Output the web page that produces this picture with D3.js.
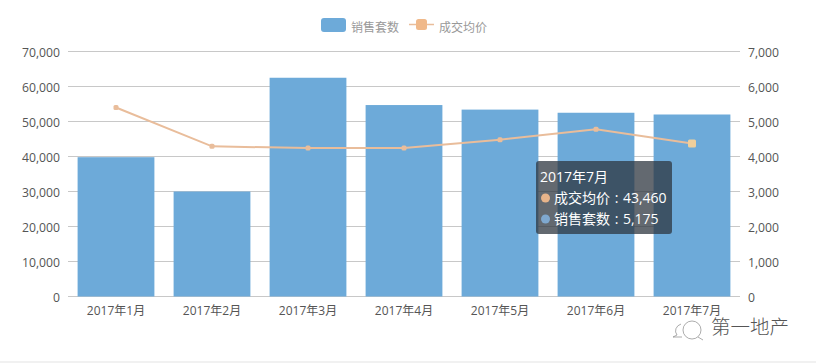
<!DOCTYPE html>
<html><head><meta charset="utf-8">
<script src="https://cdn.jsdelivr.net/npm/d3@7/dist/d3.min.js"></script>
<style>html,body{margin:0;padding:0;background:#fff}svg{display:block;font-family:"Open Sans","Noto Sans CJK SC",sans-serif}</style>
</head><body><svg id="c" width="816" height="363"></svg>
<script>
const categories=["2017年1月","2017年2月","2017年3月","2017年4月","2017年5月","2017年6月","2017年7月"];
const salesCount=[39800,30000,62500,54700,53400,52500,52000];
const avgPrice=[5400,4290,4240,4240,4480,4780,4370];
const leftTicks=[0,10000,20000,30000,40000,50000,60000,70000];
const rightTicks=[0,1000,2000,3000,4000,5000,6000,7000];
const seriesNames=["销售套数","成交均价"];
const tooltipTitle="2017年7月";
const tooltipRows=[["成交均价","43,460"],["销售套数","5,175"]];
const watermark="第一地产";

const BLUE="#6daad9",ORANGE="#e9bd9b",GRID="#c8c8c8",TEXT="#555";
const svg=d3.select("#c");
const x=d3.scaleBand().domain(categories).range([68,740]).paddingInner(0.2).paddingOuter(0.1);
const yL=d3.scaleLinear().domain([0,70000]).range([296.5,51.5]);
const yR=d3.scaleLinear().domain([0,7000]).range([296.5,51.5]);
const fmt=d3.format(",");

svg.append("g").selectAll("line").data(leftTicks).join("line")
 .attr("x1",68).attr("x2",740).attr("y1",d=>yL(d)).attr("y2",d=>yL(d))
 .attr("stroke",GRID).attr("stroke-width",1);

const axL=svg.append("g").attr("transform","translate(68,1)")
 .call(d3.axisLeft(yL).tickValues(leftTicks).tickFormat(fmt).tickSize(0).tickPadding(8));
const axR=svg.append("g").attr("transform","translate(740,1)")
 .call(d3.axisRight(yR).tickValues(rightTicks).tickFormat(fmt).tickSize(0).tickPadding(8));
const axB=svg.append("g").attr("transform","translate(0,296.5)")
 .call(d3.axisBottom(x).tickSize(0).tickPadding(10));
[axL,axR,axB].forEach(a=>{a.select(".domain").remove();
 a.selectAll("text").attr("fill",TEXT).style("font-size","12.2px").style("font-family",'"Open Sans","Noto Sans CJK SC",sans-serif');});
axB.selectAll("text").style("font-size","12px");

svg.append("g").selectAll("rect").data(categories).join("rect")
 .attr("x",d=>x(d)).attr("width",x.bandwidth())
 .attr("y",(d,i)=>yL(salesCount[i])).attr("height",(d,i)=>yL(0)-yL(salesCount[i]))
 .attr("fill",BLUE);

const line=d3.line().x((d,i)=>x(categories[i])+x.bandwidth()/2).y(d=>yR(d));
svg.append("path").datum(avgPrice).attr("d",line).attr("fill","none").attr("stroke",ORANGE).attr("stroke-width",2);
svg.append("g").selectAll("rect").data(avgPrice).join("rect")
 .each(function(d,i){const s=i===6?8:5;
  d3.select(this).attr("x",x(categories[i])+x.bandwidth()/2-s/2).attr("y",yR(d)-s/2)
  .attr("width",s).attr("height",s).attr("rx",1.5).attr("fill",i===6?"#efcf9c":ORANGE);});

// legend
const lg=svg.append("g");
lg.append("rect").attr("x",321).attr("y",18).attr("width",25).attr("height",14).attr("rx",3).attr("fill",BLUE);
lg.append("text").attr("x",351).attr("y",32).attr("fill","#999").style("font-size","12px").style("font-family",'"Noto Sans CJK SC"').text(seriesNames[0]);
lg.append("line").attr("x1",409).attr("x2",434).attr("y1",24.5).attr("y2",24.5).attr("stroke",ORANGE).attr("stroke-width",1.5);
lg.append("rect").attr("x",416).attr("y",19).attr("width",11).attr("height",11).attr("rx",2.5).attr("fill","#f0b98a");
lg.append("text").attr("x",439).attr("y",32).attr("fill","#999").style("font-size","12px").style("font-family",'"Noto Sans CJK SC"').text(seriesNames[1]);

// tooltip
const tt=svg.append("g");
tt.append("rect").attr("x",536).attr("y",161).attr("width",136).attr("height",73).attr("rx",3).attr("fill","rgba(45,52,62,0.74)");
tt.append("text").attr("x",540).attr("y",182).attr("fill","#fff").style("font-size","14px").text(tooltipTitle);
const dotCols=["#e8b48a","#7fa8cf"];
tooltipRows.forEach((r,i)=>{const cy=198+i*21;
 tt.append("circle").attr("cx",545.5).attr("cy",cy).attr("r",4.5).attr("fill",dotCols[i]);
 tt.append("text").attr("x",554).attr("y",cy+5).attr("fill","#fff").style("font-size","14px").style("word-spacing","1px").text(r[0]+" : "+r[1]);});

// watermark
const wm=svg.append("g").attr("fill","none").attr("stroke","#888").attr("stroke-width",0.7);
wm.append("path").attr("d","M681 324 A9 7.5 0 0 0 677 335 L673 337 L682 337");
wm.append("circle").attr("cx",692).attr("cy",330).attr("r",9);
wm.append("path").attr("d","M698 337 L703 340");
svg.append("text").attr("x",711).attr("y",334).attr("fill","#555").style("font-size","19.5px").style("font-family",'"Noto Sans CJK SC"').style("font-weight",300).text(watermark);

svg.append("rect").attr("x",0).attr("y",361).attr("width",816).attr("height",2).attr("fill","#f1f1f1");
</script></body></html>
